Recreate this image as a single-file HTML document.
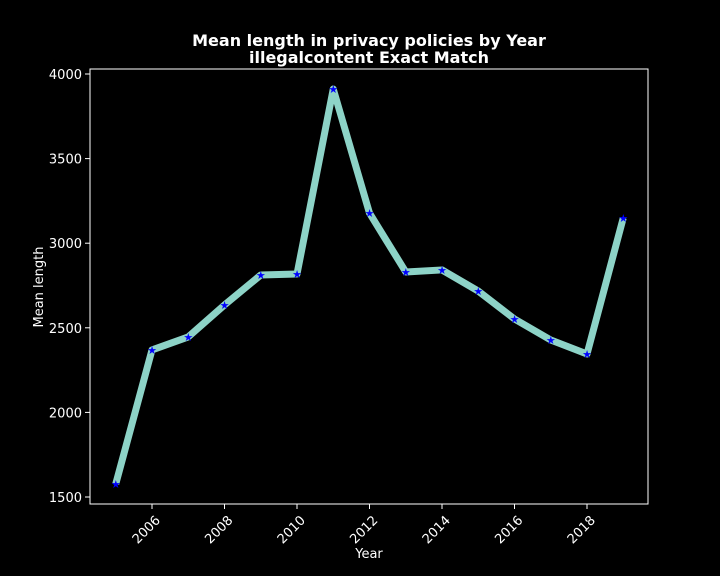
<!DOCTYPE html>
<html><head><meta charset="utf-8"><style>
html,body{margin:0;padding:0;background:#000;overflow:hidden;width:720px;height:576px;}
svg{display:block;}
svg text{font-family:"DejaVu Sans","Liberation Sans",sans-serif;fill:#fff;}
</style></head><body>
<svg id="chart" width="720" height="576">
<rect width="720" height="576" fill="#000"/>
<text x="369" y="46" text-anchor="middle" font-size="16" font-weight="bold">Mean length in privacy policies by Year</text>
<text x="369" y="63" text-anchor="middle" font-size="16" font-weight="bold">illegalcontent Exact Match</text>
<g id="axes"></g>
<rect x="90" y="69" width="558" height="435" fill="none" stroke="#fff" stroke-width="1"/>
<text x="369" y="558" text-anchor="middle" font-size="13">Year</text>
<text transform="translate(43,287) rotate(-90)" text-anchor="middle" font-size="13">Mean length</text>
</svg>
<script>
const years=[2005,2006,2007,2008,2009,2010,2011,2012,2013,2014,2015,2016,2017,2018,2019];
const meanLength=[1577,2369,2446,2635,2812,2818,3911,3178,2830,2842,2717,2552,2428,2345,3149];
const xTicks=[2006,2008,2010,2012,2014,2016,2018];
const yTicks=[1500,2000,2500,3000,3500,4000];
const NS="http://www.w3.org/2000/svg";
const x=v=>152+(v-2006)*36.25;
const y=v=>497-(v-1500)*0.1692;
const g=document.getElementById('axes');
function el(t,a){const e=document.createElementNS(NS,t);for(const k in a)e.setAttribute(k,a[k]);g.appendChild(e);return e;}
xTicks.forEach(t=>{
 const l=el('line',{x1:x(t),x2:x(t),y1:504,y2:509,stroke:'#fff'});
 
 
 const tx=el('text',{transform:`translate(${x(t)+9},${521}) rotate(-45)`,'text-anchor':'end','font-size':13});
 tx.textContent=t;
 
 
});
yTicks.forEach(t=>{
 const l=el('line',{x1:85,x2:90,y1:y(t),y2:y(t),stroke:'#fff'});
 
 
 const tx=el('text',{x:82,y:y(t)+5,'text-anchor':'end','font-size':13});
 tx.textContent=t;
 
 
});
const pts=years.map((yr,i)=>x(yr)+','+y(meanLength[i])).join(' ');
const line=el('polyline',{points:pts,fill:'none',stroke:'#8dd3c7','stroke-width':7,'stroke-linejoin':'round'});


years.forEach((yr,i)=>{
 const m=el('text',{x:x(yr),y:y(meanLength[i])+4,'text-anchor':'middle','font-size':11,style:'fill:#0000ff'});
 m.textContent='★';
 
 
});
</script>
</body></html>
